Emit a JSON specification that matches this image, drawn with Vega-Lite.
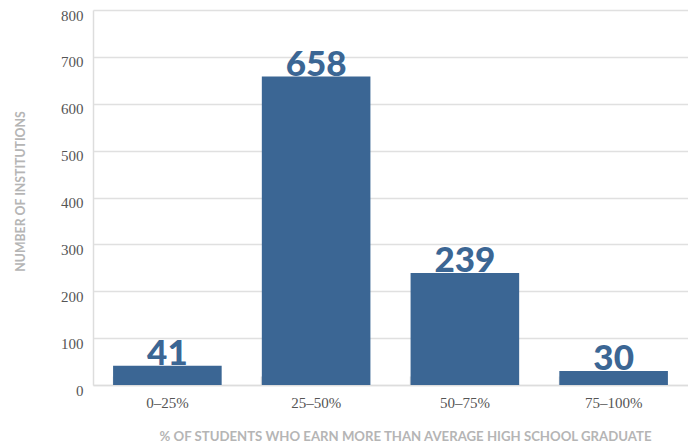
{
  "$schema": "https://vega.github.io/schema/vega-lite/v6.json",
  "width": 595,
  "height": 375,
  "autosize": "none",
  "padding": {"left": 93, "top": 10, "right": 0, "bottom": 63},
  "background": "white",
  "config": {"view": {"stroke": null}},
  "data": {"values": [
    {"group": "0–25%", "count": 41},
    {"group": "25–50%", "count": 658},
    {"group": "50–75%", "count": 239},
    {"group": "75–100%", "count": 30}
  ]},
  "encoding": {
    "x": {"field": "group", "type": "nominal", "sort": null,
      "scale": {"paddingInner": 0.27, "paddingOuter": 0.135},
      "axis": {"title": "% OF STUDENTS WHO EARN MORE THAN AVERAGE HIGH SCHOOL GRADUATE",
        "labelAngle": 0, "labelFont": "Liberation Serif", "labelFontSize": 15, "labelColor": "#555555",
        "labelPadding": 19, "domainColor": "#dddddd", "domainWidth": 1.5,
        "tickColor": "#dddddd", "tickSize": -9, "tickWidth": 1.5, "bandPosition": 0,
        "titleFont": "Lato", "titleFontWeight": "bold", "titleFontSize": 13.2, "titleColor": "#b5b5b5",
        "titlePadding": 20, "titleX": 312}},
    "y": {"field": "count", "type": "quantitative",
      "scale": {"domain": [0, 800], "nice": false},
      "axis": {"title": "NUMBER OF INSTITUTIONS", "values": [0,100,200,300,400,500,600,700,800],
        "labelFont": "Liberation Serif", "labelFontSize": 15, "labelColor": "#555555",
        "labelPadding": 10, "labelBaseline": "middle", "labelOffset": 5, "ticks": false,
        "domainColor": "#dddddd", "domainWidth": 1.5,
        "grid": true, "gridColor": "#e0e0e0", "gridWidth": 1.5,
        "titleFont": "Lato", "titleFontWeight": "bold", "titleFontSize": 12.3, "titleColor": "#b5b5b5",
        "titlePadding": 33, "titleY": 181}}
  },
  "layer": [
    {"mark": {"type": "bar", "color": "#3b6694"}},
    {"mark": {"type": "text", "font": "Lato", "fontWeight": 900, "fontSize": 35, "color": "#3b6694", "baseline": "alphabetic", "dy": -1},
      "encoding": {"text": {"field": "count", "type": "quantitative"}}}
  ]
}
